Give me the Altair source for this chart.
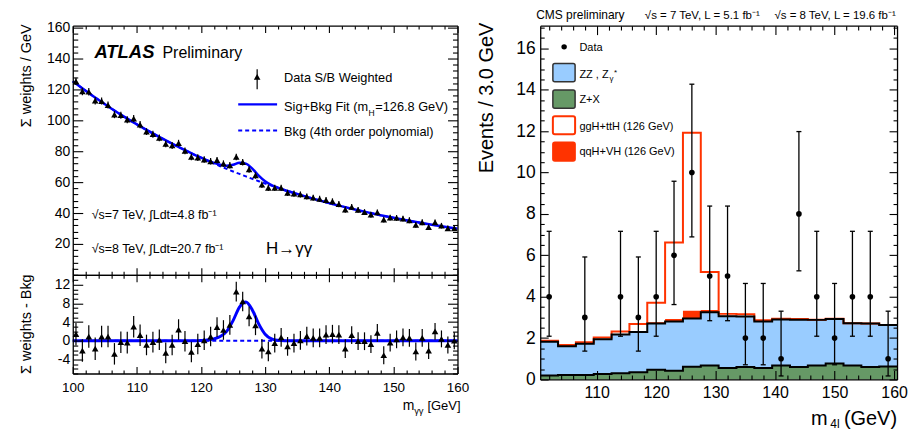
import altair as alt
import numpy as np
import pandas as pd

FONT = "Liberation Sans"
ABLUE = "#0000ff"
GREEN = "#669966"
ZZBLUE = "#99ccff"
HRED = "#ff3300"

# ---------------- ATLAS  H -> gamma gamma (S/B weighted) ----------------
MGG = [100.5, 101.5, 102.5, 103.5, 104.5, 105.5, 106.5, 107.5, 108.5, 109.5,
       110.5, 111.5, 112.5, 113.5, 114.5, 115.5, 116.5, 117.5, 118.5, 119.5,
       120.5, 121.5, 122.5, 123.5, 124.5, 125.5, 126.5, 127.5, 128.5, 129.5,
       130.5, 131.5, 132.5, 133.5, 134.5, 135.5, 136.5, 137.5, 138.5, 139.5,
       140.5, 141.5, 142.5, 143.5, 144.5, 145.5, 146.5, 147.5, 148.5, 149.5,
       150.5, 151.5, 152.5, 153.5, 154.5, 155.5, 156.5, 157.5, 158.5, 159.5]
WSUM = [125.2, 118.7, 118.5, 112.7, 112.5, 109.9, 103.7, 103.3, 100.4, 101.1,
        97.2, 92.7, 91.0, 88.6, 84.7, 83.7, 85.2, 80.2, 76.3, 75.9,
        74.6, 73.5, 74.2, 72.0, 70.9, 76.3, 72.9, 68.2, 64.3, 58.3,
        56.3, 56.3, 56.3, 53.1, 52.5, 52.0, 50.7, 49.9, 49.2, 48.4,
        47.5, 45.8, 42.2, 43.9, 42.0, 40.6, 38.9, 40.4, 35.7, 37.0,
        36.8, 36.4, 35.3, 32.3, 34.0, 30.8, 34.0, 31.8, 30.1, 30.1]
RESID = [1.4, -2.1, 0.9, -1.7, 0.9, 0.9, -2.8, -0.3, -0.4, 3.0,
         1.2, -0.9, -0.3, 0.2, -2.6, -0.9, 2.4, -0.1, -2.4, -0.7,
         0.1, 0.9, 2.9, 2.3, 3.4, 10.5, 8.4, 5.2, 3.3, -1.7,
         -2.3, -0.5, 0.7, -1.2, -0.5, 0.1, 1.0, 0.6, 0.6, 1.3,
         1.4, 1.3, -1.7, 1.2, -0.1, -0.1, -0.7, 1.7, -3.1, -0.4,
         0.3, 0.7, 0.6, -2.3, 0.6, -2.1, 2.0, 0.4, -0.9, 0.0]
ERR = [2.4, 2.4, 2.4, 2.4, 2.3, 2.3, 2.3, 2.3, 2.3, 2.3,
       2.3, 2.2, 2.2, 2.2, 2.2, 2.2, 2.2, 2.2, 2.2, 2.2,
       2.1, 2.1, 2.1, 2.1, 2.1, 2.1, 2.1, 2.1, 2.1, 2.1,
       2.1, 2.0, 2.0, 2.0, 2.0, 2.0, 2.0, 2.0, 2.0, 2.0,
       2.0, 2.0, 2.0, 1.9, 1.9, 1.9, 1.9, 1.9, 1.9, 1.9,
       1.9, 1.9, 1.9, 1.9, 1.9, 1.8, 1.8, 1.8, 1.8, 1.8]
XFIT = [100, 102, 104, 106, 108, 110, 112, 114, 116, 118, 119, 120, 121, 122, 123,
        124, 125, 126, 127, 128, 129, 130, 131, 132, 133, 134, 136, 138, 140, 142,
        144, 146, 148, 150, 152, 154, 156, 158, 160]
BKG = [125.3, 119.2, 113.3, 107.7, 102.4, 97.4, 92.7, 88.1, 83.8, 79.7, 77.7, 75.8, 73.9, 72.1, 70.3,
       68.6, 66.9, 65.3, 63.7, 62.1, 60.6, 59.1, 57.7, 56.3, 54.9, 53.6, 51.1, 48.7, 46.4, 44.3,
       42.3, 40.4, 38.6, 36.9, 35.3, 33.8, 32.4, 31.1, 29.8]
SIG = [0, 0, 0, 0, 0, 0, 0, 0, 0, 0, 0.0, 0.05, 0.15, 0.4, 0.9,
       2.0, 4.3, 7.2, 8.3, 6.6, 3.6, 1.4, 0.4, 0.1, 0.0, 0.0, 0, 0, 0, 0,
       0, 0, 0, 0, 0, 0, 0, 0, 0]

# ---------------- CMS  H -> ZZ -> 4l ----------------
EDGES = [100.5, 103.5, 106.5, 109.5, 112.5, 115.5, 118.5, 121.5, 124.5, 127.5, 130.5,
         133.5, 136.5, 139.5, 142.5, 145.5, 148.5, 151.5, 154.5, 157.5, 160.5]
ZX = [0.19, 0.21, 0.22, 0.27, 0.30, 0.35, 0.47, 0.42, 0.61, 0.67,
      0.55, 0.60, 0.55, 0.67, 0.60, 0.67, 0.77, 0.68, 0.60, 0.63]
ZZ = [1.63, 1.40, 1.51, 1.67, 1.87, 1.94, 2.23, 2.38, 2.34, 2.58,
      2.50, 2.44, 2.25, 2.23, 2.29, 2.21, 2.15, 2.04, 2.10, 2.00]
QQH = [0.01, 0.01, 0.01, 0.02, 0.03, 0.04, 0.06, 0.12, 0.37, 0.11,
       0.03, 0.02, 0.01, 0.01, 0.01, 0.0, 0.0, 0.0, 0.0, 0.0]
GGH = [0.04, 0.05, 0.06, 0.07, 0.12, 0.35, 0.95, 3.70, 8.60, 1.83,
       0.09, 0.09, 0.05, 0.02, 0.02, 0.01, 0.01, 0.0, 0.0, 0.0]
M4L = [102, 108, 114, 117, 120, 123, 126, 129, 132, 135, 138, 141, 144, 147, 150, 153, 156, 159]
NEV = [4, 3, 4, 3, 4, 6, 10, 5, 5, 2, 2, 1, 8, 4, 2, 4, 4, 1]
ELO = [2.09, 1.37, 2.09, 1.37, 2.09, 3.62, 6.89, 2.84, 2.84, 0.71, 0.71, 0.17, 5.25, 2.09, 0.71, 2.09, 2.09, 0.17]
EHI = [7.16, 5.92, 7.16, 5.92, 7.16, 9.58, 14.27, 8.38, 8.38, 4.64, 4.64, 3.30, 11.98, 7.16, 4.64, 7.16, 7.16, 3.30]

CMS_LEGEND = ["ZZ , Z", "Z+X", "ggH+ttH (126 GeV)", "qqH+VH (126 GeV)"]

# ---------------- tables ----------------
dfA = pd.DataFrame({"m": MGG, "w": WSUM, "r": RESID, "e": ERR})
dfA["wlo"] = dfA.w - dfA.e
dfA["whi"] = dfA.w + dfA.e
dfA["rlo"] = dfA.r - dfA.e
dfA["rhi"] = dfA.r + dfA.e
dfF = pd.DataFrame({"x": XFIT, "bkg": BKG, "sig": SIG})
dfF["fit"] = dfF.bkg + dfF.sig
dfF["zero"] = 0.0

g = np.array(ZX)
b = g + np.array(ZZ)
r = b + np.array(QQH)
t = r + np.array(GGH)
ext = lambda a: list(a) + [a[-1]]
dfH = pd.DataFrame({"x": EDGES, "g": ext(g), "b": ext(b), "r": ext(r), "t": ext(t), "z": [0.0] * len(EDGES)})
dfD = pd.DataFrame({"m": M4L, "n": NEV, "lo": ELO, "hi": EHI})

DUMMY = pd.DataFrame({"d": [0]})


def txt(s, x, y, size, align="left", baseline="alphabetic", angle=0, **kw):
    props = dict(text=s, align=align, baseline=baseline, fontSize=size, font=FONT, color="black")
    if angle:
        props["angle"] = angle
    props.update(kw)
    return alt.Chart(DUMMY).mark_text(**props).encode(x=alt.value(x), y=alt.value(y))


def tick_axis(orient, values, size, shift=0, show_labels=False, lab_size=12, lab_pad=3):
    kw = dict(orient=orient, values=values, ticks=True, tickSize=size, offset=-(size + shift),
              tickColor="black", tickWidth=1.1, domain=False, grid=False, title=None,
              labels=show_labels, zindex=3)
    if show_labels:
        kw.update(labelFontSize=lab_size, labelPadding=lab_pad, labelColor="black",
                  labelFont=FONT, labelFlush=False, labelOverlap=False,
                  labelExpr="'' + datum.value")
    return alt.Axis(**kw)


def domain_axis(orient, shift=0):
    kw = dict(orient=orient, ticks=False, labels=False, domain=True, domainColor="black",
              domainWidth=1.3, grid=False, title=None, zindex=4)
    if shift:
        kw["offset"] = -shift
    return alt.Axis(**kw)


def frame_layers(xs, ys, x0, y0, xmaj, xmin, ymaj, ymin, xbig, xsmall, ybig, ysmall,
                 xlab, ylab, xls, yls, xlp, ylp, bot_shift=0, top_shift=0):
    host = alt.Chart(pd.DataFrame({"hx": [x0], "hy": [y0]}))
    specs = [
        (tick_axis("bottom", xmaj, xbig, bot_shift, xlab, xls, xlp),
         tick_axis("left", ymaj, ybig, 0, ylab, yls, ylp)),
        (tick_axis("bottom", xmin, xsmall, bot_shift), tick_axis("left", ymin, ysmall)),
        (tick_axis("top", xmaj, xbig, top_shift), tick_axis("right", ymaj, ybig)),
        (tick_axis("top", xmin, xsmall, top_shift), tick_axis("right", ymin, ysmall)),
        (domain_axis("bottom", bot_shift), domain_axis("left")),
        (domain_axis("top", top_shift), domain_axis("right")),
    ]
    return [host.mark_point(opacity=0, size=0).encode(
        x=alt.X("hx:Q", scale=xs, axis=ax), y=alt.Y("hy:Q", scale=ys, axis=ay)) for ax, ay in specs]


# ---------------- ATLAS (upper + lower in one view) ----------------
UP_H, LO_H = 250, 99
XS_A = alt.Scale(domain=[100, 160], nice=False, zero=False)
YS_U = alt.Scale(domain=[0, 161.3], range=[UP_H, 0], nice=False, zero=False)
YS_L = alt.Scale(domain=[-7, 14.1], range=[UP_H + LO_H, UP_H], nice=False, zero=False)
xa = alt.X("x:Q", scale=XS_A, axis=None)
xm = alt.X("m:Q", scale=XS_A, axis=None)

x_major_a = [100, 110, 120, 130, 140, 150, 160]
x_minor_a = [v for v in range(102, 160, 2) if v % 10]

upper_layers = [
    alt.Chart(dfF).mark_line(color=ABLUE, strokeWidth=2, strokeDash=[4, 3], interpolate="monotone")
    .encode(x=xa, y=alt.Y("bkg:Q", scale=YS_U, axis=None)),
    alt.Chart(dfF).mark_line(color=ABLUE, strokeWidth=2.5, interpolate="monotone")
    .encode(x=xa, y=alt.Y("fit:Q", scale=YS_U, axis=None)),
    alt.Chart(dfA).mark_rule(color="black", strokeWidth=1.2)
    .encode(x=xm, y=alt.Y("wlo:Q", scale=YS_U, axis=None), y2="whi:Q"),
    alt.Chart(dfA).mark_point(shape="triangle-up", filled=True, color="black", size=44, opacity=1)
    .encode(x=xm, y=alt.Y("w:Q", scale=YS_U, axis=None)),
    # legend
    alt.Chart(DUMMY).mark_rule(color="black", strokeWidth=1.2)
    .encode(x=alt.value(185), y=alt.value(43.7), y2=alt.value(63.7)),
    alt.Chart(DUMMY).mark_point(shape="triangle-up", filled=True, color="black", size=44, opacity=1)
    .encode(x=alt.value(185), y=alt.value(51.3)),
    alt.Chart(DUMMY).mark_rule(color=ABLUE, strokeWidth=2.5)
    .encode(x=alt.value(166), x2=alt.value(205), y=alt.value(79)),
    alt.Chart(DUMMY).mark_rule(color=ABLUE, strokeWidth=2, strokeDash=[4, 3])
    .encode(x=alt.value(166), x2=alt.value(205), y=alt.value(105.3)),
    txt("Data S/B Weighted", 212, 56.3, 12.8),
    txt("Sig+Bkg Fit (m", 212, 85.3, 12.8),
    txt("H", 296.8, 91, 8.5),
    txt("=126.8 GeV)", 303.5, 85.3, 12.8),
    txt("Bkg (4th order polynomial)", 212, 111, 12.8),
    txt("ATLAS", 21.7, 32, 18.5, fontWeight="bold", fontStyle="italic"),
    txt("Preliminary", 90, 32, 16),
    txt("\u221As=7 TeV, \u222BLdt=4.8 fb\u207B\u00B9", 19, 193.7, 12.5),
    txt("\u221As=8 TeV, \u222BLdt=20.7 fb\u207B\u00B9", 19, 227.7, 12.5),
    txt("H\u2192\u03B3\u03B3", 194, 229.3, 17),
    txt("\u03A3 weights / GeV", -46, -1.3, 14.5, align="right", baseline="middle", angle=270),
]
upper_frame = frame_layers(
    XS_A, YS_U, 100, 0, x_major_a, x_minor_a,
    [20, 40, 60, 80, 100, 120, 140, 160], [v for v in range(4, 161, 4) if v % 20],
    7, 3.5, 10, 5, False, True, 13.5, 14, 7, 3, bot_shift=LO_H, top_shift=0,
)

lower_layers = [
    alt.Chart(dfF).mark_line(color=ABLUE, strokeWidth=2, strokeDash=[4, 3])
    .encode(x=xa, y=alt.Y("zero:Q", scale=YS_L, axis=None)),
    alt.Chart(dfF).mark_line(color=ABLUE, strokeWidth=3, interpolate="monotone")
    .encode(x=xa, y=alt.Y("sig:Q", scale=YS_L, axis=None)),
    alt.Chart(dfA).mark_rule(color="black", strokeWidth=1.2)
    .encode(x=xm, y=alt.Y("rlo:Q", scale=YS_L, axis=None), y2="rhi:Q"),
    alt.Chart(dfA).mark_point(shape="triangle-up", filled=True, color="black", size=44, opacity=1)
    .encode(x=xm, y=alt.Y("r:Q", scale=YS_L, axis=None)),
    txt("\u03A3 weights - Bkg", -46, UP_H + 49.5, 14.5, align="center", baseline="middle", angle=270),
    txt("m", 331, UP_H + 135.3, 14),
    txt("\u03B3\u03B3", 342.5, UP_H + 139.5, 9.5),
    txt("[GeV]", 389, UP_H + 135.3, 13, align="right"),
]
lower_frame = frame_layers(
    XS_A, YS_L, 100, -7, x_major_a, x_minor_a,
    [-4, 0, 4, 8, 12], [v for v in range(-7, 15) if v % 4],
    7, 3.5, 10, 5, True, True, 13.5, 14, 7, 3, bot_shift=0, top_shift=UP_H,
)

left = alt.layer(*upper_layers, *upper_frame, *lower_layers, *lower_frame).resolve_scale(
    y="independent").resolve_axis(x="independent", y="independent").properties(
    width=386, height=UP_H + LO_H)

# ---------------- CMS ----------------
XS_C = alt.Scale(domain=[100.5, 160.5], nice=False, zero=False)
YS_C = alt.Scale(domain=[0, 17.1], nice=False, zero=False)
xh = alt.X("x:Q", scale=XS_C, axis=None)
xd = alt.X("m:Q", scale=XS_C, axis=None)

box_y = [(38, 56.3), (64.7, 83), (91, 109), (117, 135.7)]
box_style = [dict(fill=ZZBLUE, stroke="#333333", strokeWidth=1.5),
             dict(fill=GREEN, stroke="#333333", strokeWidth=1.5),
             dict(fill="white", stroke=HRED, strokeWidth=2),
             dict(fill=HRED, stroke=HRED, strokeWidth=1.5)]
text_y = [52.7, 78, 104.3, 129.7]

right_layers = [
    alt.Chart(dfH).mark_area(interpolate="step-after", color=GREEN)
    .encode(x=xh, y=alt.Y("g:Q", scale=YS_C, axis=None), y2="z:Q"),
    alt.Chart(dfH).mark_area(interpolate="step-after", color=ZZBLUE)
    .encode(x=xh, y=alt.Y("b:Q", scale=YS_C, axis=None), y2="g:Q"),
    alt.Chart(dfH).mark_area(interpolate="step-after", color=HRED)
    .encode(x=xh, y=alt.Y("r:Q", scale=YS_C, axis=None), y2="b:Q"),
    alt.Chart(dfH).mark_line(interpolate="step-after", color=HRED, strokeWidth=2)
    .encode(x=xh, y=alt.Y("t:Q", scale=YS_C, axis=None)),
    alt.Chart(dfH).mark_line(interpolate="step-after", color="black", strokeWidth=2)
    .encode(x=xh, y=alt.Y("b:Q", scale=YS_C, axis=None)),
    alt.Chart(dfH).mark_line(interpolate="step-after", color="black", strokeWidth=2)
    .encode(x=xh, y=alt.Y("g:Q", scale=YS_C, axis=None)),
    alt.Chart(dfD).mark_rule(color="black", strokeWidth=1.3)
    .encode(x=xd, y=alt.Y("lo:Q", scale=YS_C, axis=None), y2="hi:Q"),
    alt.Chart(dfD).mark_tick(orient="horizontal", size=5, thickness=1.3, color="black", opacity=1)
    .encode(x=xd, y=alt.Y("lo:Q", scale=YS_C, axis=None)),
    alt.Chart(dfD).mark_tick(orient="horizontal", size=5, thickness=1.3, color="black", opacity=1)
    .encode(x=xd, y=alt.Y("hi:Q", scale=YS_C, axis=None)),
    alt.Chart(dfD).mark_circle(size=32, color="black", opacity=1)
    .encode(x=xd, y=alt.Y("n:Q", scale=YS_C, axis=None)),
    # legend
    alt.Chart(DUMMY).mark_circle(size=30, color="black", opacity=1)
    .encode(x=alt.value(24), y=alt.value(21.3)),
    txt("Data", 39.3, 25.3, 11),
]
for (y1, y2), st, ty, lab in zip(box_y, box_style, text_y, CMS_LEGEND):
    right_layers.append(alt.Chart(DUMMY).mark_rect(cornerRadius=2, **st)
                        .encode(x=alt.value(12.7), x2=alt.value(35), y=alt.value(y1), y2=alt.value(y2)))
    right_layers.append(txt(lab, 39.3, ty, 11))
right_layers += [
    txt("\u03B3", 69.5, 56, 8),
    txt("*", 74, 50, 8),
    txt("CMS preliminary", -4, -7, 12),
    txt("\u221As = 7 TeV, L = 5.1 fb\u207B\u00B9", 105, -7, 11.5),
    txt("\u221As = 8 TeV, L = 19.6 fb\u207B\u00B9", 235, -7, 11.5),
    txt("Events / 3.0 GeV", -53, -3, 20, align="right", baseline="middle", angle=270),
    txt("m", 271.7, 400.3, 20),
    txt("4l", 291, 403.7, 12),
    txt("(GeV)", 358, 400.3, 20, align="right"),
]
right = alt.layer(*right_layers, *frame_layers(
    XS_C, YS_C, 100.5, 0, [110, 120, 130, 140, 150, 160], [v for v in range(102, 161, 2) if v % 10],
    [0, 2, 4, 6, 8, 10, 12, 14, 16], [v / 2 for v in range(1, 35) if v % 4],
    9, 4.5, 8, 4, True, True, 16, 17.5, 5, 5,
)).resolve_axis(x="independent", y="independent").properties(width=358, height=355)

chart = alt.hconcat(
    left, right, spacing=83, bounds="flush",
    padding={"left": 18, "top": 7, "right": 0, "bottom": 4},
).configure(font=FONT).configure_view(stroke="transparent")

chart.save("out.html", embed_options={"renderer": "svg", "actions": False})
